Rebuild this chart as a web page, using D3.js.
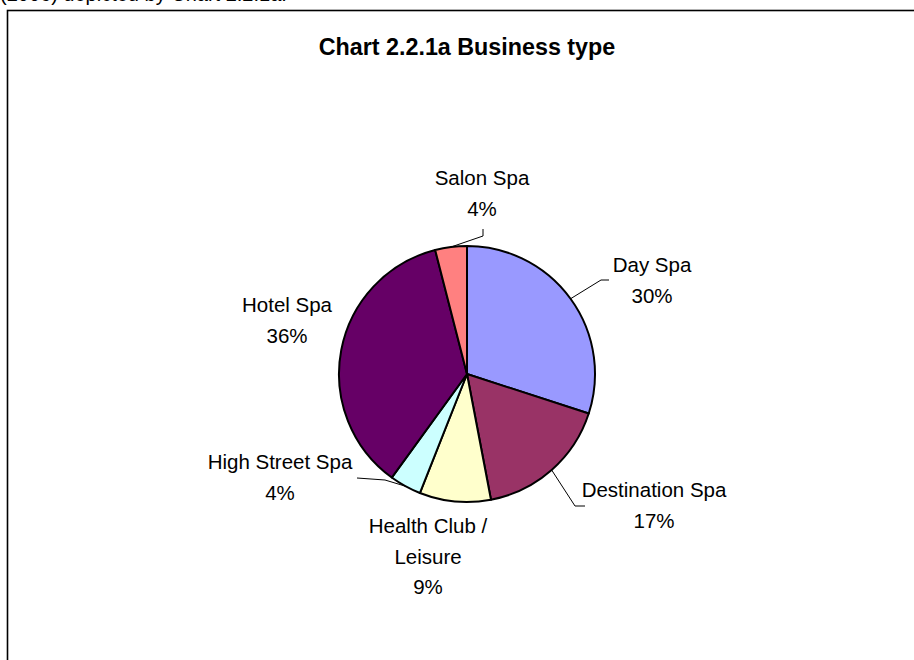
<!DOCTYPE html>
<html>
<head>
<meta charset="utf-8">
<script src="https://cdn.jsdelivr.net/npm/d3@7"></script>
<style>
  html, body { margin: 0; padding: 0; background: #fff; }
  svg { display: block; font-family: "Liberation Sans", Arial, sans-serif; }
</style>
</head>
<body>
<svg id="chart" width="914" height="660"></svg>
<script>
// Business type shares (%)
const categories = ["Day Spa", "Destination Spa", "Health Club / Leisure", "High Street Spa", "Hotel Spa", "Salon Spa"];
const shares = [30, 17, 9, 4, 36, 4];
const labelLines = [["Day Spa"], ["Destination Spa"], ["Health Club /", "Leisure"], ["High Street Spa"], ["Hotel Spa"], ["Salon Spa"]];
const colors = ["#9999FF", "#993366", "#FFFFCC", "#CCFFFF", "#660066", "#FF8080"];

// Label placement (centre x, first baseline y) and leader-line elbows
const labelPos = [[652, 272], [654, 497], [428, 533], [280, 469], [287, 312], [482, 185]];
const leaderElbows = [
  [[601, 280], [609, 280]],
  [[575, 506], [585, 506]],
  null,
  [[385, 480], [357, 478]],
  null,
  [[483, 236], [483, 229]]
];

const svg = d3.select("#chart");
const W = 914, H = 660;
const cx = 467, cy = 374, r = 128;
const lineGap = 30.5;

// Running text above the chart frame
svg.append("text")
  .attr("x", 0).attr("y", 1)
  .attr("font-size", 20)
  .text("(2006) depicted by Chart 2.2.1a.");

svg.append("rect")
  .attr("x", 7.5).attr("y", 10.5)
  .attr("width", W + 20).attr("height", H + 20)
  .attr("fill", "#fff")
  .attr("stroke", "#000").attr("stroke-width", 1.6);

svg.append("text")
  .attr("x", cx).attr("y", 55)
  .attr("text-anchor", "middle")
  .attr("font-size", 23.3).attr("font-weight", "bold")
  .text("Chart 2.2.1a Business type");

const data = categories.map((c, i) => ({ name: c, value: shares[i], i }));
const pie = d3.pie().value(d => d.value).sort(null).startAngle(0).endAngle(2 * Math.PI);
const arcs = pie(data);
const arc = d3.arc().innerRadius(0).outerRadius(r);

const g = svg.append("g").attr("transform", `translate(${cx},${cy})`);
g.selectAll("path.slice")
  .data(arcs)
  .join("path")
  .attr("class", "slice")
  .attr("d", arc)
  .attr("fill", d => colors[d.data.i])
  .attr("stroke", "#000")
  .attr("stroke-width", 2)
  .attr("stroke-linejoin", "round");

// Leader lines from the slice edge to the label
arcs.forEach(a => {
  const elbows = leaderElbows[a.data.i];
  if (!elbows) return;
  const mid = (a.startAngle + a.endAngle) / 2;
  const start = [cx + r * Math.sin(mid), cy - r * Math.cos(mid)];
  svg.append("path")
    .attr("d", d3.line()([start, ...elbows]))
    .attr("fill", "none")
    .attr("stroke", "#000")
    .attr("stroke-width", 1);
});

// Category and percentage labels
arcs.forEach(a => {
  const i = a.data.i;
  const [lx, ly] = labelPos[i];
  const lines = labelLines[i].concat([d3.format(".0f")(a.data.value) + "%"]);
  const t = svg.append("text")
    .attr("text-anchor", "middle")
    .attr("font-size", 20.5)
    .attr("fill", "#000");
  lines.forEach((s, k) => {
    t.append("tspan").attr("x", lx).attr("y", ly + k * lineGap).text(s);
  });
});
</script>
</body>
</html>
